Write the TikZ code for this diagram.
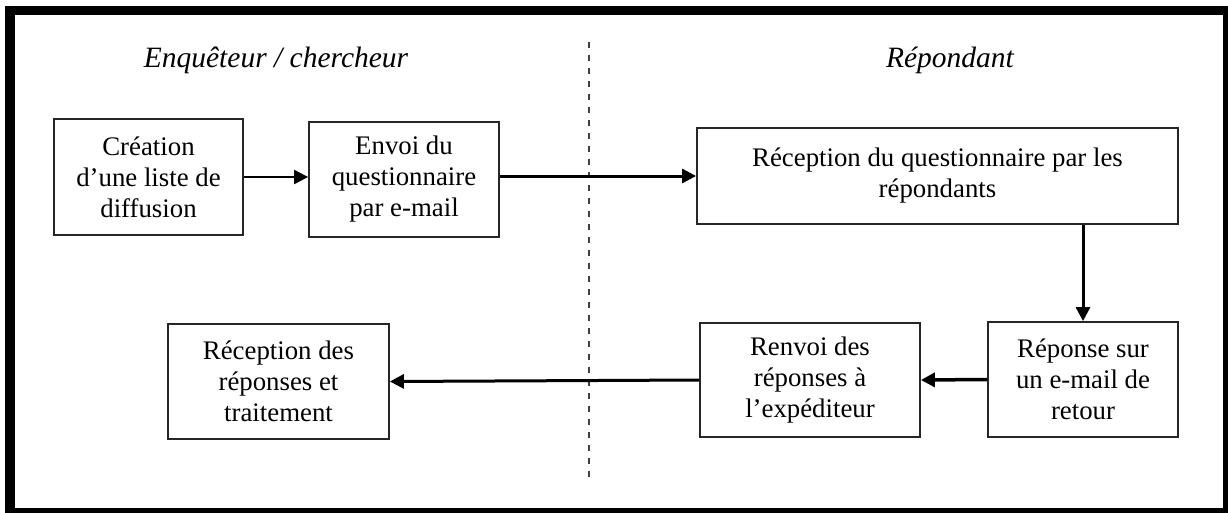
\documentclass[tikz,border=0pt]{standalone}
\usepackage{fontspec}
\setmainfont{Liberation Serif}
\usetikzlibrary{arrows.meta}
\begin{document}
\begin{tikzpicture}[x=1pt,y=-1pt,
  stepbox/.style={draw=black!85, line width=1.8pt, align=center, inner sep=0pt,
    font=\fontsize{26.8}{31}\selectfont},
  flow/.style={line width=3pt, -{Triangle[length=14pt,width=14pt]}},
  divider/.style={draw=black!75, line width=1.8pt, dash pattern=on 6pt off 7pt},
  lane/.style={font=\fontsize{29.5}{34}\selectfont\itshape, anchor=base, inner sep=0pt},
  frame/.style={draw=black, line width=9.5pt}]
\useasboundingbox (0,0) rectangle (1228,512);

% outer frame
\coordinate (f1) at (10,10.5);
\coordinate (f2) at (1227.5,512.5);
\draw[frame] (f1) rectangle (f2);

% lane titles
\node[lane] (t1) at (276,67) {Enquêteur / chercheur};
\node[lane] (t2) at (950,67) {Répondant};

% separator between the two sides
\coordinate (dtop) at (589,42);
\coordinate (dbot) at (589,480);
\draw[divider] (dtop) -- (dbot);

% process steps
\node[stepbox, minimum width=189pt, minimum height=116pt] (b1) at (148.5,177)
  {Création\\d’une liste de\\diffusion};
\node[stepbox, minimum width=190pt, minimum height=115pt] (b2) at (404,179.5)
  {Envoi du\\questionnaire\\par e-mail};
\node[stepbox, minimum width=481pt, minimum height=96pt] (b3) at (937.5,176)
  {Réception du questionnaire par les\\répondants};
\node[stepbox, minimum width=190pt, minimum height=115pt] (b4) at (1083,379.5)
  {Réponse sur\\un e-mail de\\retour};
\node[stepbox, minimum width=220pt, minimum height=114pt] (b5) at (810,380)
  {Renvoi des\\réponses à\\l’expéditeur};
\node[stepbox, minimum width=221pt, minimum height=115pt] (b6) at (278.5,381.5)
  {Réception des\\réponses et\\traitement};

% connectors
\draw[flow, line width=2pt] (b1.east) -- (b1.east -| b2.west);
\draw[flow] (b3.west -| b2.east) -- (b3.west);
\draw[flow] (b3.south -| b4.north) -- (b4.north);
\draw[flow, line width=3.5pt] (b4.west) -- (b5.east);
\draw[flow] (b5.west) -- (b6.east);
\end{tikzpicture}
\end{document}
